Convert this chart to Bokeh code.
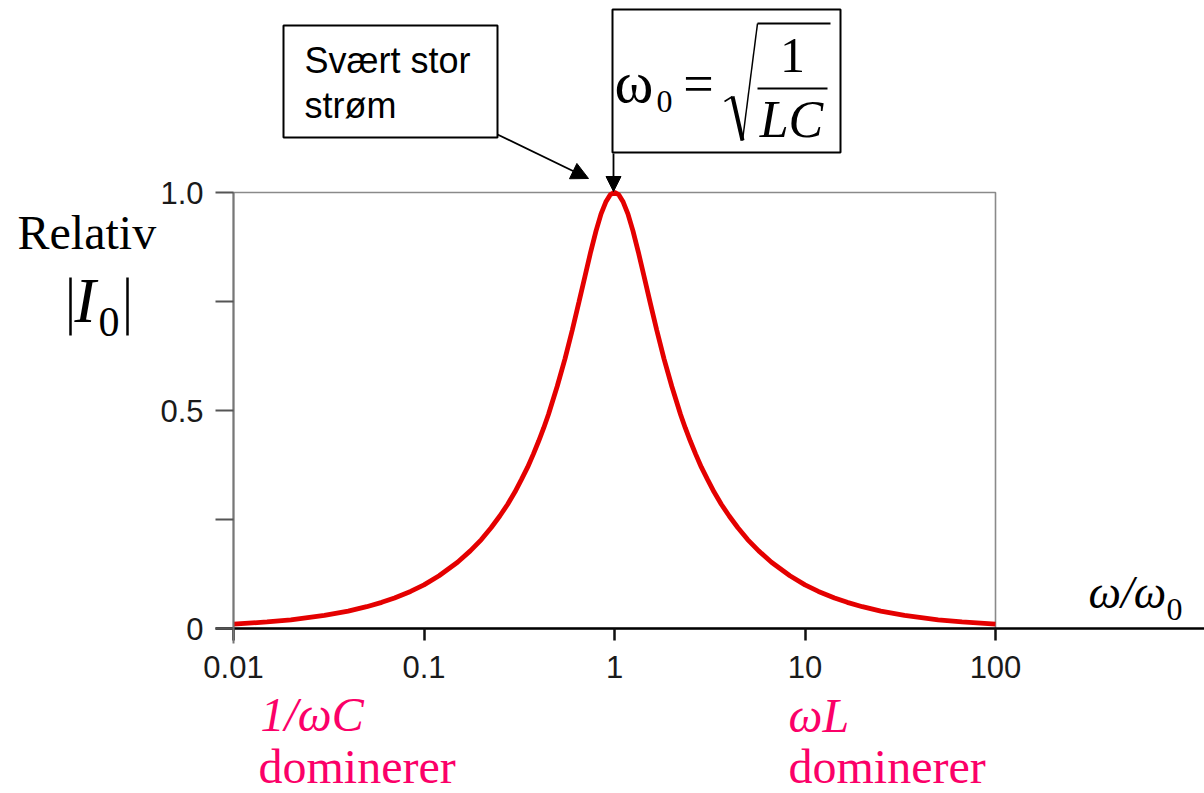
from bokeh.plotting import figure
from bokeh.models import (Range1d, FixedTicker, Label, Arrow, NormalHead,
                          BoxAnnotation)
from bokeh.embed import file_html
from bokeh.resources import INLINE

# ---- data ----
omega_ratio = [0.01, 0.015, 0.02, 0.03, 0.04, 0.05, 0.06, 0.07, 0.085, 0.1,
               0.12, 0.15, 0.175, 0.2, 0.225, 0.25, 0.275, 0.3, 0.325, 0.35,
               0.375, 0.4, 0.425, 0.45, 0.5, 0.55, 0.6, 0.65, 0.7, 0.75, 0.8,
               0.85, 0.9, 0.95, 1.0, 1.053, 1.111, 1.176, 1.25, 1.333, 1.429,
               1.538, 1.667, 1.818, 2.0, 2.222, 2.353, 2.5, 2.667, 2.857,
               3.077, 3.333, 3.636, 4.0, 4.444, 5.0, 5.714, 6.667, 8.333,
               10.0, 11.76, 14.29, 16.67, 20.0, 25.0, 33.3, 50.0, 66.7, 100.0]
rel_current = [0.010, 0.015, 0.020, 0.030, 0.040, 0.050, 0.060, 0.070, 0.085,
               0.100, 0.121, 0.152, 0.178, 0.204, 0.231, 0.258, 0.285, 0.313,
               0.342, 0.370, 0.400, 0.430, 0.460, 0.491, 0.555, 0.619, 0.684,
               0.748, 0.808, 0.864, 0.912, 0.951, 0.978, 0.995, 1.000, 0.995,
               0.978, 0.951, 0.912, 0.864, 0.808, 0.748, 0.684, 0.619, 0.555,
               0.491, 0.460, 0.430, 0.400, 0.370, 0.342, 0.313, 0.285, 0.258,
               0.231, 0.204, 0.178, 0.152, 0.121, 0.100, 0.085, 0.070, 0.060,
               0.050, 0.040, 0.030, 0.020, 0.015, 0.010]
x_ticks = [0.01, 0.1, 1, 10, 100]
x_tick_labels = ["0.01", "0.1", "1", "10", "100"]
y_ticks = [0, 0.5, 1.0]
y_minor_ticks = [0.25, 0.75]
y_tick_labels = ["0", "0.5", "1.0"]

SERIF = "Liberation Serif"
SANS = "Liberation Sans"
PINK = "#fb0068"

W, H = 1204, 793
# plot box in page pixels
FL, FR, FT, FB = 233, 995, 192, 628
DEC = (FR - FL) / 4.0


def X(px):
    return 10 ** (-2 + (px - FL) / DEC)


def Y(py):
    return (FB - py) / (FB - FT)


p = figure(width=W, height=H, x_axis_type="log",
           x_range=Range1d(X(0), X(W)), y_range=Range1d(Y(H), Y(0)),
           output_backend="svg", toolbar_location=None, min_border=0)
p.xgrid.visible = False
p.ygrid.visible = False
p.outline_line_color = None
p.background_fill_color = "white"
p.border_fill_color = "white"

# plot-area frame (gray top/right)
p.add_layout(BoxAnnotation(left=x_ticks[0], right=x_ticks[-1],
                           bottom=y_ticks[0], top=y_ticks[-1],
                           fill_alpha=0, line_color="#8a8a8a", line_alpha=1,
                           line_width=1.6, level="underlay"))

p.line(omega_ratio, rel_current, line_color="#e40000", line_width=4.8)

xa = p.xaxis[0]
xa.fixed_location = 0
xa.bounds = (X(215), X(W + 10))
xa.ticker = FixedTicker(ticks=x_ticks)
xa.major_label_overrides = dict(zip(x_ticks, x_tick_labels))
xa.axis_line_color = "black"
xa.axis_line_width = 2.5
xa.major_tick_out = 12
xa.major_tick_in = 0
xa.major_tick_line_width = 2.5
xa.major_tick_line_color = "#111111"
xa.minor_tick_line_color = None
xa.major_label_standoff = 15
xa.major_label_text_font = SANS
xa.major_label_text_font_size = "31px"
xa.major_label_text_color = "#1a1a1a"

ya = p.yaxis[0]
ya.fixed_location = x_ticks[0]
ya.bounds = (Y(643), 1.0)
ya.ticker = FixedTicker(ticks=y_ticks, minor_ticks=y_minor_ticks)
ya.major_label_overrides = dict(zip(y_ticks, y_tick_labels))
ya.axis_line_color = "#777777"
ya.axis_line_width = 2
ya.major_tick_out = 18
ya.major_tick_in = 0
ya.minor_tick_out = 18
ya.minor_tick_in = 0
ya.major_tick_line_color = "#555555"
ya.minor_tick_line_color = "#555555"
ya.major_tick_line_width = 2
ya.minor_tick_line_width = 2
ya.major_label_standoff = 12
ya.major_label_text_font = SANS
ya.major_label_text_font_size = "31px"
ya.major_label_text_color = "#1a1a1a"


def seg(x0, y0, x1, y1, color="black", width=2):
    p.add_layout(Arrow(x_start=X(x0), y_start=Y(y0), x_end=X(x1), y_end=Y(y1),
                       end=None, line_color=color, line_width=width))


def text(px, py, s, size, font=SERIF, style="normal", color="black",
         align="left"):
    # py is the wanted baseline in page pixels
    p.add_layout(Label(x=X(px), y=Y(py - 0.34 * size), text=s, text_font=font,
                       text_font_size=f"{size}px", text_font_style=style,
                       text_color=color, text_align=align,
                       text_baseline="alphabetic"))


# y label
text(17, 248, "Relativ", 48)
seg(70, 277, 70, 335, width=2.5)
text(74, 322, "I", 64, style="italic")
text(98, 336, "0", 42)
seg(127, 277, 127, 335, width=2.5)

# x label
text(1088, 608, "ω/ω", 46, style="italic")
text(1166, 620, "0", 32)

# red notes
text(260, 730, "1/ωC", 48, style="italic", color=PINK)
text(258, 782, "dominerer", 48, color=PINK)
text(788, 731, "ωL", 48, style="italic", color=PINK)
text(788, 782, "dominerer", 48, color=PINK)

# box "Svært stor strøm"
p.add_layout(BoxAnnotation(left=X(283), right=X(497), top=Y(25), bottom=Y(137),
                           fill_alpha=0, line_color="black", line_alpha=1,
                           line_width=2))
text(304, 72, "Svært stor", 36, font=SANS)
text(304, 117, "strøm", 36, font=SANS)
p.add_layout(Arrow(x_start=X(497), y_start=Y(134), x_end=X(588), y_end=Y(178),
                   line_color="black", line_width=1.8,
                   end=NormalHead(size=17, fill_color="black",
                                  line_color="black")))

# box with omega_0 formula
p.add_layout(BoxAnnotation(left=X(612), right=X(840), top=Y(9), bottom=Y(152),
                           fill_alpha=0, line_color="black", line_alpha=1,
                           line_width=2))
text(614, 102, "ω", 59)
text(656, 112, "0", 32)
text(698, 102, "=", 54, align="center")
seg(724, 101, 732, 96, width=1.5)
seg(732, 96, 742, 140, width=4)
seg(742, 140, 757, 23, width=1.5)
seg(757, 23, 830, 23, width=2)
text(792, 72, "1", 50, align="center")
seg(757, 88, 827, 88, width=2)
text(791, 137, "LC", 52, style="italic", align="center")
p.add_layout(Arrow(x_start=X(613), y_start=Y(153), x_end=X(613), y_end=Y(191),
                   line_color="black", line_width=1.8,
                   end=NormalHead(size=15, fill_color="black",
                                  line_color="black")))

open("out.html", "w").write(file_html(p, INLINE))
